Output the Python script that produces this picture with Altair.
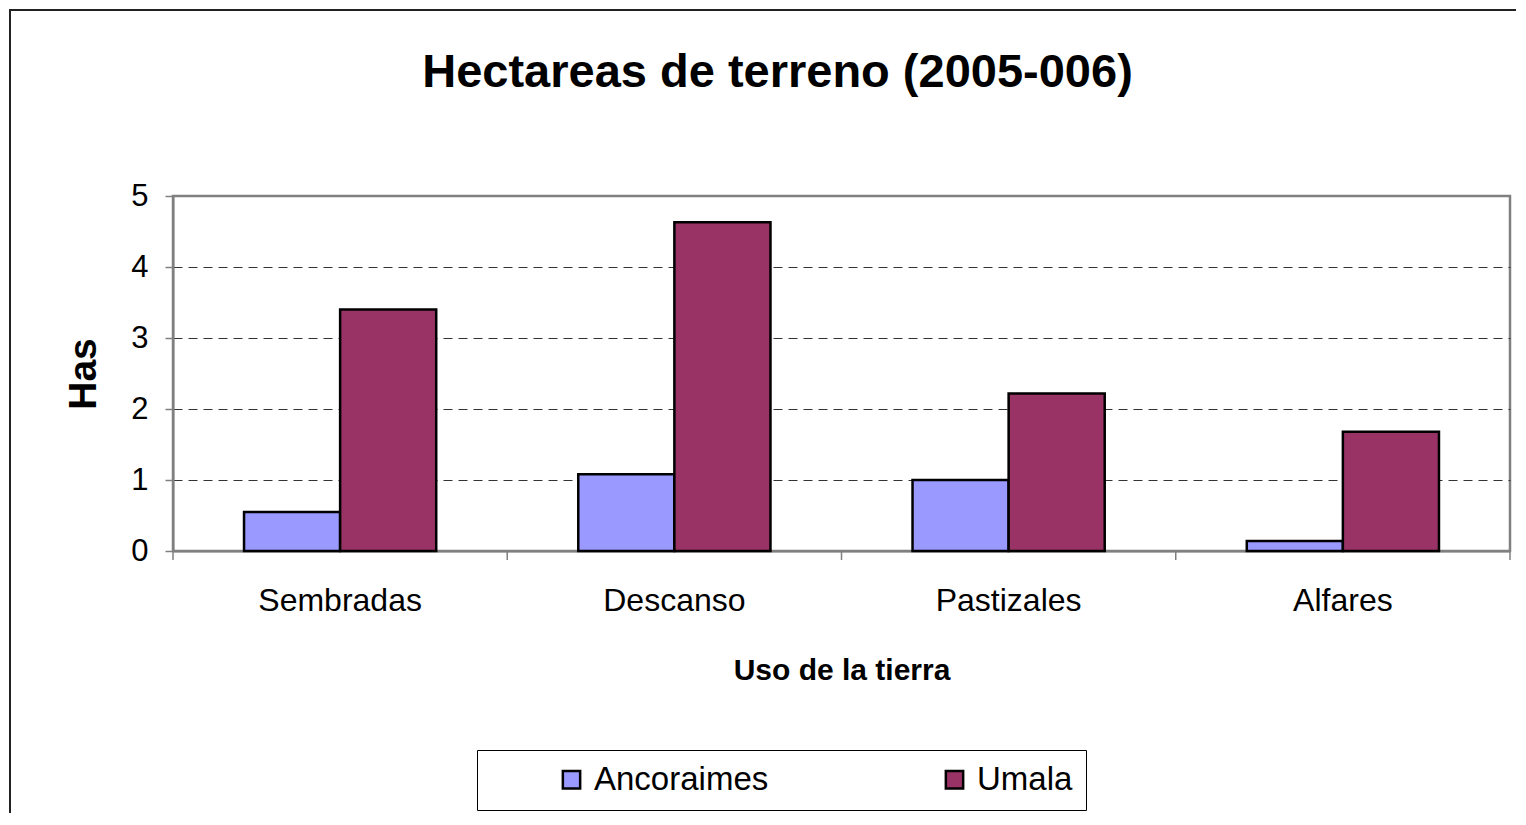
import altair as alt
import pandas as pd

categories = ["Sembradas", "Descanso", "Pastizales", "Alfares"]
series = ["Ancoraimes", "Umala"]
ancoraimes = [0.55, 1.08, 1.0, 0.14]
umala = [3.4, 4.63, 2.22, 1.68]
colors = ["#9999FF", "#993366"]
y_ticks = [0, 1, 2, 3, 4, 5]

rows = []
for c, a, u in zip(categories, ancoraimes, umala):
    rows.append({"uso": c, "zona": "Ancoraimes", "has": a})
    rows.append({"uso": c, "zona": "Umala", "has": u})
df = pd.DataFrame(rows)
cat_df = pd.DataFrame({"uso": categories})

FONT = "Liberation Sans"
GRAY = "#808080"

bars = alt.Chart(df).mark_bar(stroke="black", strokeWidth=2.5).encode(
    x=alt.X(
        "uso:N",
        sort=categories,
        scale=alt.Scale(domain=categories, paddingInner=0.425, paddingOuter=0.2125),
        axis=alt.Axis(
            title="Uso de la tierra",
            labelAngle=0,
            ticks=False,
            tickSize=0,
            labelPadding=34,
            labelFontSize=32,
            labelFont=FONT,
            labelColor="black",
            domainColor=GRAY,
            domainWidth=2,
            titleFont=FONT,
            titleFontSize=30,
            titleFontWeight="bold",
            titleColor="black",
            titleBaseline="alphabetic",
            titleY=128,
        ),
    ),
    xOffset=alt.XOffset("zona:N", sort=series, scale=alt.Scale(paddingInner=0, paddingOuter=0)),
    y=alt.Y(
        "has:Q",
        scale=alt.Scale(domain=[0, 5], nice=False),
        axis=alt.Axis(
            title="Has",
            values=y_ticks,
            grid=True,
            gridDash=[9, 6],
            gridColor="#333333",
            gridWidth=1,
            gridOpacity={"condition": {"test": "datum.value === 0 || datum.value === 5", "value": 0}, "value": 1},
            domainColor=GRAY,
            domainWidth=2,
            tickColor=GRAY,
            tickSize=8,
            tickWidth=1.5,
            labelFontSize=31,
            labelFont=FONT,
            labelColor="black",
            labelPadding=17,
            titleFont=FONT,
            titleFontSize=39,
            titleFontWeight="bold",
            titleColor="black",
            titleBaseline="alphabetic",
            titleX=-78,
        ),
    ),
    color=alt.Color(
        "zona:N",
        sort=series,
        scale=alt.Scale(domain=series, range=colors),
        legend=alt.Legend(
            title=None,
            orient="none",
            legendX=304,
            legendY=554,
            direction="horizontal",
            symbolType="square",
            symbolSize=300,
            symbolStrokeColor="black",
            symbolStrokeWidth=2.5,
            symbolOpacity=1,
            labelFontSize=33,
            labelFont=FONT,
            labelColor="black",
            labelOffset=6,
            labelLimit=400,
            columnPadding=104,
            padding=13,
            symbolOffset=65,
            strokeColor="black",
            fillColor="white",
        ),
    ),
)

tick_scale = alt.Scale(domain=categories, paddingInner=0, paddingOuter=0)
ticks = alt.Chart(cat_df).mark_rule(color=GRAY, strokeWidth=1.5).encode(
    x=alt.X("uso:N", sort=categories, bandPosition=0, scale=tick_scale, axis=None),
    y=alt.value(355),
    y2=alt.value(364),
)
ticks_end = alt.Chart(cat_df).transform_filter(alt.datum.uso == categories[-1]).mark_rule(
    color=GRAY, strokeWidth=1.5
).encode(
    x=alt.X("uso:N", sort=categories, bandPosition=1, scale=tick_scale, axis=None),
    y=alt.value(355),
    y2=alt.value(364),
)

frame = alt.Chart(alt.Data(values=[{"f": 1}])).mark_rect(
    filled=False, stroke="#222222", strokeWidth=2
).encode(
    x=alt.value(-163), x2=alt.value(1420), y=alt.value(-186), y2=alt.value(720)
)

chart = alt.layer(frame, bars, ticks, ticks_end).resolve_scale(x="independent").properties(
    width=1337,
    height=355,
    background="white",
    padding={"left": 165, "top": 188, "right": 6, "bottom": 262},
    autosize=alt.AutoSizeParams(type="none"),
    title=alt.TitleParams(
        "Hectareas de terreno (2005-006)",
        fontSize=47,
        fontWeight="bold",
        font=FONT,
        color="black",
        frame="group",
        anchor="middle",
        dx=-64,
        offset=-88,
    ),
).configure_view(stroke=GRAY, strokeWidth=2.5)

chart.save("out.html", embed_options={"renderer": "svg", "actions": False})
